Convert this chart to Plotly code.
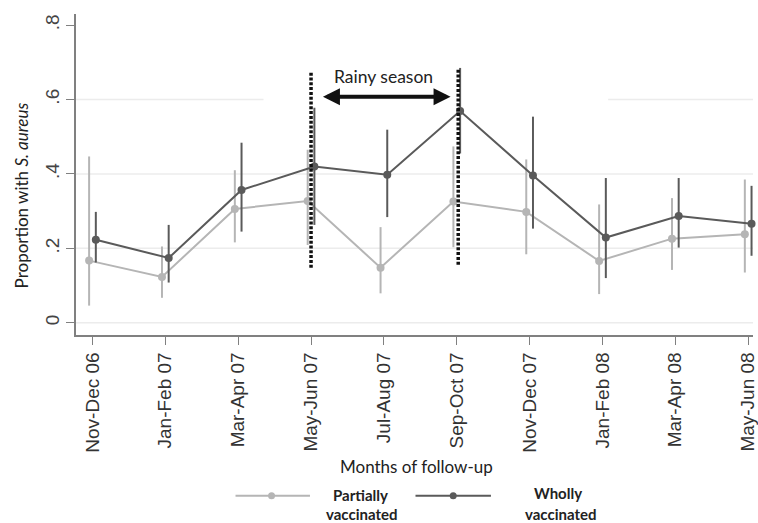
import plotly.graph_objects as go

categories = ["Nov-Dec 06", "Jan-Feb 07", "Mar-Apr 07", "May-Jun 07", "Jul-Aug 07",
              "Sep-Oct 07", "Nov-Dec 07", "Jan-Feb 08", "Mar-Apr 08", "May-Jun 08"]
partial = [0.167, 0.123, 0.306, 0.327, 0.148, 0.326, 0.298, 0.166, 0.226, 0.238]
partial_lo = [0.046, 0.067, 0.216, 0.209, 0.079, 0.203, 0.184, 0.077, 0.142, 0.135]
partial_hi = [0.447, 0.205, 0.410, 0.465, 0.257, 0.474, 0.439, 0.318, 0.335, 0.385]
whole = [0.223, 0.174, 0.357, 0.420, 0.398, 0.569, 0.396, 0.229, 0.287, 0.266]
whole_lo = [0.162, 0.108, 0.245, 0.263, 0.284, 0.455, 0.253, 0.120, 0.202, 0.180]
whole_hi = [0.298, 0.263, 0.484, 0.578, 0.519, 0.685, 0.554, 0.389, 0.389, 0.368]
y_ticks = [0, 0.2, 0.4, 0.6, 0.8]
y_ticktext = ["0", ".2", ".4", ".6", ".8"]
series_names = ["Partially", "Wholly"]
season_label = "Rainy season"
season_bounds = [3, 5.02]

LIGHT = "#b5b5b5"
DARK = "#5a5a5a"
OFF = 0.046
TXT_FONT = "Lato"

idx = list(range(len(categories)))
fig = go.Figure()


def add_series(vals, lo, hi, color, shift):
    fig.add_trace(go.Scatter(
        x=[i + shift for i in idx], y=vals, mode="lines+markers",
        line=dict(color=color, width=2), marker=dict(color=color, size=8),
        error_y=dict(type="data", symmetric=False,
                     array=[h - v for h, v in zip(hi, vals)],
                     arrayminus=[v - l for v, l in zip(vals, lo)],
                     color=color, thickness=2, width=0),
        showlegend=False, cliponaxis=False))


add_series(partial, partial_lo, partial_hi, LIGHT, -OFF)
add_series(whole, whole_lo, whole_hi, DARK, OFF)

shapes = []
# light grid lines
for yv in y_ticks[:3]:
    shapes.append(dict(type="line", xref="paper", yref="y", x0=0, x1=1, y0=yv, y1=yv,
                       line=dict(color="#ececec", width=1.5), layer="below"))
shapes.append(dict(type="line", xref="paper", yref="y", x0=0, x1=0.277, y0=0.6, y1=0.6,
                   line=dict(color="#ececec", width=1.5), layer="below"))
shapes.append(dict(type="line", xref="paper", yref="y", x0=0.786, x1=1, y0=0.6, y1=0.6,
                   line=dict(color="#ececec", width=1.5), layer="below"))
# dotted season boundaries
shapes.append(dict(type="line", xref="x", yref="y", x0=season_bounds[0], x1=season_bounds[0],
                   y0=0.148, y1=0.676, line=dict(color="#111111", width=3.5, dash="3px,1.8px")))
shapes.append(dict(type="line", xref="x", yref="y", x0=season_bounds[1], x1=season_bounds[1],
                   y0=0.156, y1=0.684, line=dict(color="#111111", width=3.5, dash="3px,1.8px")))


def px2paper(px, py):
    return (px - 76) / 682.0, (335 - py) / 321.0


# manual legend
for (xa, xb, xm, color) in [(236.7, 311.7, 273, LIGHT), (418, 494, 456, DARK)]:
    x0, yl = px2paper(xa, 495.7)
    x1, _ = px2paper(xb, 495.7)
    xc, _ = px2paper(xm, 495.7)
    shapes.append(dict(type="line", xref="paper", yref="paper", x0=x0, x1=x1, y0=yl, y1=yl,
                       line=dict(color=color, width=2)))
    shapes.append(dict(type="circle", xref="paper", yref="paper", xsizemode="pixel",
                       ysizemode="pixel", xanchor=xc, yanchor=yl, x0=-3.5, x1=3.5, y0=-3.5, y1=3.5,
                       fillcolor=color, line=dict(color=color, width=0)))

annotations = []
for text, px, py in [(series_names[0], 363, 495), ("vaccinated", 364, 514),
                     (series_names[1], 562, 493), ("vaccinated", 565, 514)]:
    xp, yp = px2paper(px, py)
    annotations.append(dict(text="<b>" + text + "</b>", xref="paper", yref="paper", x=xp, y=yp,
                            xanchor="center", yanchor="middle", showarrow=False,
                            font=dict(family=TXT_FONT, size=15, color="#222222")))

# axis titles
xp, yp = px2paper(22, 195)
annotations.append(dict(text="Proportion with <i>S. aureus</i>", xref="paper", yref="paper",
                        x=xp, y=yp, xanchor="center", yanchor="middle", textangle=-90,
                        showarrow=False, font=dict(family=TXT_FONT, size=17, color="#222222")))
xp, yp = px2paper(419, 466)
annotations.append(dict(text="Months of follow-up", xref="paper", yref="paper",
                        x=xp, y=yp, xanchor="center", yanchor="middle",
                        showarrow=False, font=dict(family=TXT_FONT, size=17, color="#222222")))

# rainy season label and arrow
annotations.append(dict(text=season_label, xref="x", yref="y", x=3.99, y=0.661,
                        xanchor="center", yanchor="middle", showarrow=False,
                        font=dict(family=TXT_FONT, size=17.5, color="#222222")))
annotations.append(dict(text="", xref="x", yref="y", axref="x", ayref="y",
                        x=4.915, y=0.6075, ax=3.143, ay=0.6075, showarrow=True,
                        arrowhead=2, startarrowhead=2, arrowside="end+start",
                        arrowwidth=4, arrowsize=0.85, startarrowsize=0.85,
                        arrowcolor="#111111", standoff=0, startstandoff=0))

fig.update_layout(
    width=758, height=523,
    margin=dict(l=76, r=0, t=14, b=188),
    paper_bgcolor="white", plot_bgcolor="white",
    shapes=shapes, annotations=annotations,
    xaxis=dict(range=[-0.226, 9.066], tickvals=idx, ticktext=categories, tickangle=-90,
               showgrid=False, zeroline=False, showline=True, linecolor="#808080", linewidth=1.5,
               ticks="outside", ticklen=8, tickcolor="#808080", tickwidth=1.2,
               ticklabeloverflow="allow",
               tickfont=dict(family="Liberation Sans", size=19, color="#333333")),
    yaxis=dict(range=[-0.033, 0.83], tickvals=y_ticks, ticktext=y_ticktext, tickangle=-90,
               showgrid=False, zeroline=False, showline=True, linecolor="#808080", linewidth=1.5,
               ticks="outside", ticklen=8, tickcolor="#808080", tickwidth=1.2,
               tickfont=dict(family="Liberation Sans", size=19, color="#444444")),
)

fig.write_html("out.html", config={"displayModeBar": False},
               post_script="document.body.style.margin='0px';document.body.style.overflow='hidden';")
